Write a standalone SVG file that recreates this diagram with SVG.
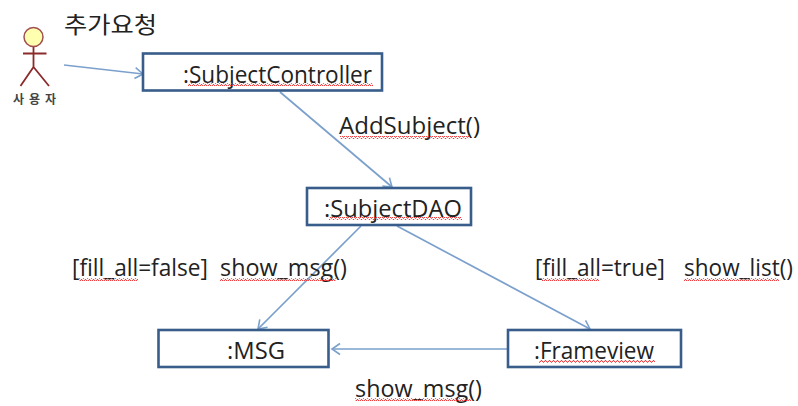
<svg xmlns="http://www.w3.org/2000/svg" width="798" height="406" viewBox="0 0 798 406">
<style>
text{font-family:"Open Sans","Noto Sans CJK KR",sans-serif;font-size:23px;fill:#222}
.box{fill:#fff;stroke:#385d8a;stroke-width:2.6}
.conn{fill:none;stroke:#7ba0cc;stroke-width:1.7}
.sq{fill:url(#wave)}
</style>
<defs>
<marker id="arr" markerUnits="userSpaceOnUse" markerWidth="14" markerHeight="14" refX="11" refY="7" orient="auto"><path d="M3 1.500L11 7L3 12.500" fill="none" stroke="#7ba0cc" stroke-width="1.600"/></marker>
<pattern id="wave" width="4" height="3" patternUnits="userSpaceOnUse"><path d="M0 2.200L1 .6L2 .6L3 2.200L4 2.200" fill="none" stroke="#ee3333" stroke-width="1"/></pattern>
</defs>
<rect width="798" height="406" fill="#fff"/>
<g id="connectors">
<line class="conn" x1="64" y1="65" x2="143" y2="74" marker-end="url(#arr)"/>
<line class="conn" x1="280" y1="92" x2="392" y2="187" marker-end="url(#arr)"/>
<line class="conn" x1="361" y1="226" x2="258" y2="329" marker-end="url(#arr)"/>
<line class="conn" x1="397" y1="226" x2="590" y2="329" marker-end="url(#arr)"/>
<line class="conn" x1="508" y1="349" x2="332" y2="349" marker-end="url(#arr)"/>
</g>
<g id="actor">
<circle cx="33.500" cy="37" r="9.500" fill="#ffffb0" stroke="#a05050" stroke-width="1.500"/>
<path d="M33.500 47V67M23 53.500H46.500M33.500 67L20.500 86M33.500 67L49 86" fill="none" stroke="#8c2a2a" stroke-width="1.800"/>
<text x="13" y="104" style="font-size:12px;font-weight:700;fill:#444" textLength="43" lengthAdjust="spacing">사용자</text>
</g>
<text id="title" x="64" y="33" style="font-size:23px" textLength="93" lengthAdjust="spacingAndGlyphs">추가요청</text>
<g id="node-controller">
<rect class="box" x="143" y="53.500" width="239" height="37"/>
<text x="183" y="83" textLength="189" lengthAdjust="spacingAndGlyphs">:SubjectController</text>
<rect class="sq" x="188" y="83" width="185" height="3"/>
</g>
<g id="node-dao">
<rect class="box" x="307" y="188" width="164" height="37"/>
<text x="324" y="217" textLength="138" lengthAdjust="spacingAndGlyphs">:SubjectDAO</text>
<rect class="sq" x="329" y="217" width="133" height="3"/>
</g>
<g id="node-msg">
<rect class="box" x="158.500" y="330" width="170" height="37"/>
<text x="227" y="359" textLength="58" lengthAdjust="spacingAndGlyphs">:MSG</text>
</g>
<g id="node-frameview">
<rect class="box" x="508" y="330" width="173" height="37"/>
<text x="534" y="359" textLength="120" lengthAdjust="spacingAndGlyphs">:Frameview</text>
<rect class="sq" x="539" y="360" width="116" height="3"/>
</g>
<g id="labels">
<text x="339" y="134" textLength="141" lengthAdjust="spacingAndGlyphs">AddSubject()</text>
<rect class="sq" x="340" y="136" width="129" height="3"/>
<text x="72" y="276" textLength="136" lengthAdjust="spacingAndGlyphs">[fill_all=false]</text>
<rect class="sq" x="79" y="278" width="59" height="3"/>
<text x="220" y="276" textLength="127" lengthAdjust="spacingAndGlyphs">show_msg()</text>
<rect class="sq" x="220" y="278" width="116" height="3"/>
<text x="535" y="276" textLength="130" lengthAdjust="spacingAndGlyphs">[fill_all=true]</text>
<rect class="sq" x="542" y="278" width="57" height="3"/>
<text x="684" y="276" textLength="109" lengthAdjust="spacingAndGlyphs">show_list()</text>
<rect class="sq" x="684" y="278" width="95" height="3"/>
<text x="355" y="397" textLength="127" lengthAdjust="spacingAndGlyphs">show_msg()</text>
<rect class="sq" x="355" y="398" width="116" height="3"/>
</g>
</svg>
